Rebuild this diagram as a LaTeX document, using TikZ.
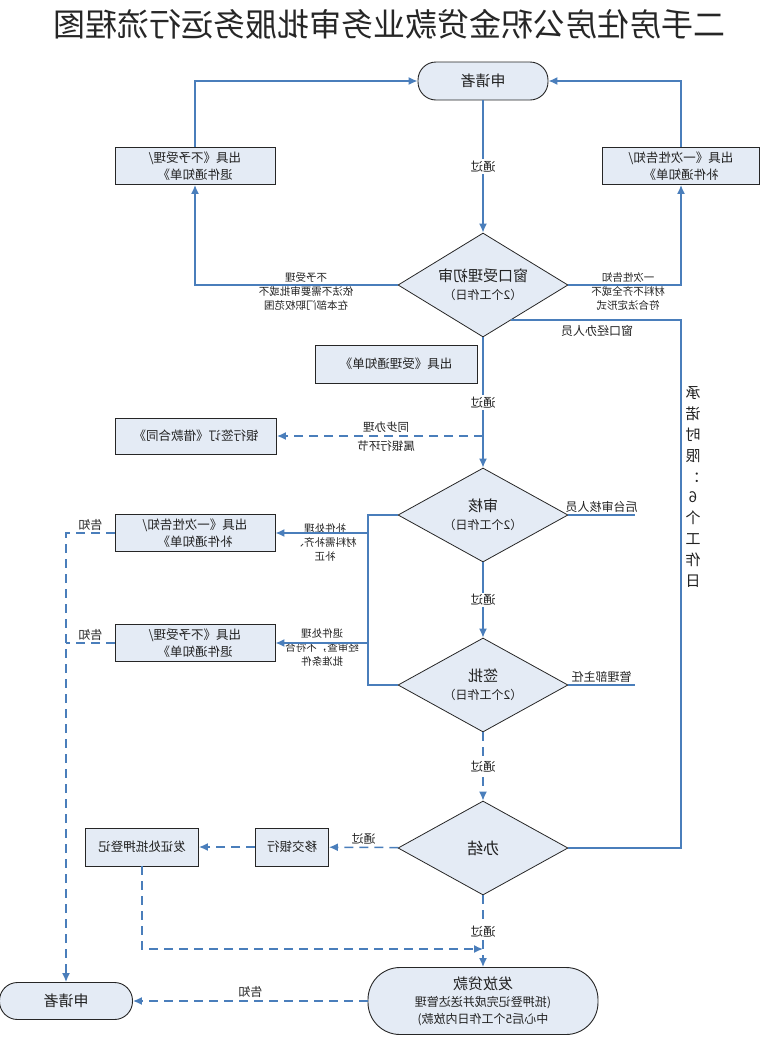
\documentclass[tikz,border=0pt]{standalone}
\usepackage{fontspec}
\setmainfont{Noto Sans CJK SC}
\usetikzlibrary{arrows.meta,shapes.geometric}
\definecolor{flow}{HTML}{4A7EBB}
\definecolor{boxfill}{HTML}{E4EBF5}
\definecolor{boxline}{HTML}{262626}
\definecolor{ink}{HTML}{222222}

\begin{document}
\begin{tikzpicture}[x=1pt, y=-1pt,
  every node/.append style={xscale=-1, text=ink},
  box/.style={draw=boxline, line width=0.9pt, fill=boxfill, minimum width=160pt, minimum height=37pt, align=center, inner sep=2pt, font=\fontsize{12.5}{17}\selectfont},
  term/.style={box, rounded corners=18pt, font=\fontsize{15}{18}\selectfont},
  dec/.style={diamond, aspect=1.7, draw=boxline, line width=0.8pt, fill=boxfill, minimum width=170pt, minimum height=94pt, inner sep=0pt, align=center, font=\fontsize{15}{18}\selectfont},
  note/.style={align=center, inner sep=1pt, font=\fontsize{10.5}{14}\selectfont},
  pass/.style={fill=white, inner sep=1.5pt, font=\fontsize{12.5}{15}\selectfont},
  ln/.style={line width=1.5pt, color=flow},
  arr/.style={ln, -{Latex[length=9pt,width=8pt]}},
  dsh/.style={ln, dash pattern=on 9pt off 6pt},
  darr/.style={dsh, -{Latex[length=9pt,width=8pt]}},
]
\useasboundingbox (0,0) rectangle (762,1037);

\node[font=\fontsize{32}{36}\selectfont, text=black!85] (title) at (389,24) {二手房住房公积金贷款业务审批服务运行流程图};

% upper part
\node[term, minimum width=130pt, minimum height=38pt] (app) at (483,81) {申请者};
\node[box] (no1) at (195,166) {出具《不予受理/\\退件通知单》};
\node[box, minimum width=157pt] (no2) at (681,166) {出具《一次性告知/\\补件通知单》};
\node[dec, minimum height=104pt] (win) at (483,285) {窗口受理初审\\{\fontsize{12}{14}\selectfont （2个工作日）}};
\node[note] (nlab) at (306,292) {不予受理\\依法不需要审批或不\\在本部门职权范围};
\node[note] (ylab) at (628,292) {一次性告知\\材料不齐全或不\\符合法定形式};
\node[note, font=\fontsize{12}{14}\selectfont] (wlab) at (597,331) {窗口经办人员};
\node[box, minimum width=162pt, minimum height=38pt] (acc) at (396,364) {出具《受理通知单》};
\node[box, minimum width=161pt, minimum height=36pt] (bank) at (196,436) {银行签订《借款合同》};
\node[note, font=\fontsize{11.5}{19}\selectfont] (sync) at (386,437) {同步办理\\属银行环节};

% middle part
\node[dec] (chk) at (483,515) {审核\\{\fontsize{12}{14}\selectfont （2个工作日）}};
\node[dec] (sig) at (483,685) {签批\\{\fontsize{12}{14}\selectfont （2个工作日）}};
\node[box] (fix) at (195,533) {出具《一次性告知/\\补件通知单》};
\node[box] (ret) at (195,643) {出具《不予受理/\\退件通知单》};
\node[note] (flab) at (325,542) {补件处理\\材料需补齐、\\补正};
\node[note] (rlab) at (322,648) {退件处理\\经审查，不符合\\批准条件};
\node[note, font=\fontsize{15}{20.8}\selectfont] (lim) at (693,487) {承\\诺\\时\\限\\：\\6\\个\\工\\作\\日};

% lower part
\node[dec, font=\fontsize{16}{18}\selectfont] (done) at (483,848) {办结};
\node[box, minimum width=73pt, minimum height=38pt] (yj) at (292,847) {移交银行};
\node[box, minimum width=113pt, minimum height=38pt] (pz) at (142,847) {发证处抵押登记};
\node[term, minimum width=230pt, minimum height=67pt, rounded corners=32pt, font=\fontsize{12}{17}\selectfont] (loan) at (483,1001) {{\fontsize{15}{18}\selectfont 发放贷款}\\(抵押登记完成并送达管理\\中心后5个工作日内放款)};
\node[term, minimum width=133pt, minimum height=37pt] (app2) at (66,1001) {申请者};

\coordinate (wa) at (511,320);
\coordinate (wb) at (681,848);
\coordinate (sy) at (483,436);
\coordinate (ja) at (368,515);
\coordinate (jb) at (368,685);
\coordinate (s1) at (635,515);
\coordinate (s2) at (635,685);
\coordinate (jc) at (483,949);

\draw[arr] (app) -- node[pass]{通过} (win);
\draw[arr] (win) -| (no1);
\draw[arr] (win) -| (no2);
\draw[arr] (no1) |- (app);
\draw[arr] (no2) |- (app);
\draw[ln] (wa) -| (wb) -- (done);
\draw[arr] (win) -- node[pass]{通过} (chk);
\draw[darr] (sy) -- (bank);

\draw[ln] (chk) -- node[note, above=1pt, font=\fontsize{12}{14}\selectfont]{后台审核人员} (s1);
\draw[ln] (sig) -- node[note, above=1pt, font=\fontsize{12}{14}\selectfont]{管理部主任} (s2);
\draw[arr] (chk) -- node[pass]{通过} (sig);
\draw[ln] (chk) -- (ja) -- (jb) -- (sig);
\draw[arr] (ja |- fix) -- (fix);
\draw[arr] (ja |- ret) -- (ret);
\draw[darr] (fix) -| node[note, above=1pt, pos=0.25, font=\fontsize{12}{14}\selectfont]{告知} (app2);
\draw[dsh] (ret) -- node[note, above=1pt, font=\fontsize{12}{14}\selectfont]{告知} (ret -| app2);

\draw[darr] (sig) -- node[pass]{通过} (done);
\draw[darr] (done) -- node[note, above=1pt, font=\fontsize{12}{14}\selectfont]{通过} (yj);
\draw[darr] (yj) -- (pz);
\draw[darr] (pz) |- (jc);
\draw[darr] (done) -- node[pass]{通过} (loan);
\draw[darr] (loan) -- node[note, above=2pt, font=\fontsize{12}{14}\selectfont]{告知} (app2);
\end{tikzpicture}
\end{document}
